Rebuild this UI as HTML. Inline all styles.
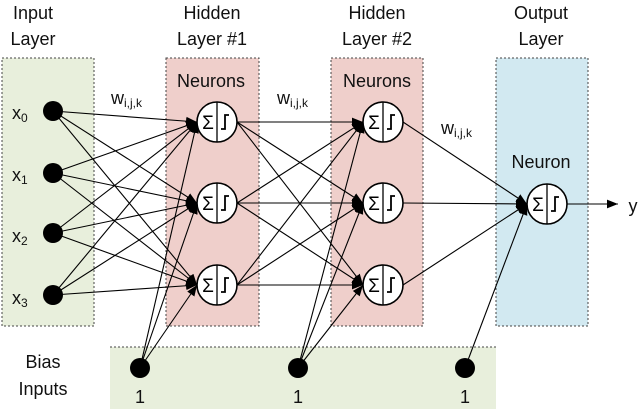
<!DOCTYPE html>
<html><head><style>body{margin:0;background:#fff}svg{display:block;font-family:"Liberation Sans",sans-serif}</style></head><body>
<svg width="640" height="409" viewBox="0 0 640 409" xmlns="http://www.w3.org/2000/svg">
<defs><marker id="b" viewBox="0 0 10 10" refX="10" refY="5" markerWidth="11" markerHeight="11" markerUnits="userSpaceOnUse" orient="auto"><path d="M0,1L10,5L0,9z" fill="#000"/></marker></defs>
<g stroke="#444" stroke-dasharray="2,2" stroke-width="1">
<rect x="2" y="58" width="92" height="268" fill="#e8efdc"/>
<rect x="166" y="58" width="93" height="268" fill="#efcfcb"/>
<rect x="331" y="58" width="92" height="268" fill="#efcfcb"/>
<rect x="496" y="58" width="92" height="268" fill="#d2e9f1"/>
</g>
<rect x="110" y="347" width="386" height="62" fill="#e8efdc"/>
<line x1="110" y1="347" x2="496" y2="347" stroke="#444" stroke-dasharray="2,2"/>
<g font-size="18" fill="#111" text-anchor="middle">
<text x="33" y="19">Input</text><text x="33" y="45">Layer</text>
<text x="212" y="19">Hidden</text><text x="212" y="45">Layer #1</text>
<text x="377" y="19">Hidden</text><text x="377" y="45">Layer #2</text>
<text x="541" y="19">Output</text><text x="541" y="45">Layer</text>
<text x="211" y="87">Neurons</text><text x="377" y="87">Neurons</text><text x="541" y="168">Neuron</text>
<text x="43" y="368">Bias</text><text x="43" y="395">Inputs</text>
<text x="140" y="403">1</text><text x="298" y="403">1</text><text x="465" y="403">1</text>
<text x="633" y="212">y</text>
</g>
<g font-size="18" fill="#111">
<text x="12" y="119">x<tspan font-size="12" dy="3">0</tspan></text>
<text x="12" y="181">x<tspan font-size="12" dy="3">1</tspan></text>
<text x="12" y="242">x<tspan font-size="12" dy="3">2</tspan></text>
<text x="12" y="304">x<tspan font-size="12" dy="3">3</tspan></text>
<text x="111" y="104">w<tspan font-size="12" dy="3">i,j,k</tspan></text>
<text x="277" y="104">w<tspan font-size="12" dy="3">i,j,k</tspan></text>
<text x="441" y="134">w<tspan font-size="12" dy="3">i,j,k</tspan></text>
</g>
<g stroke="#000" stroke-width="1.1" marker-end="url(#b)">
<line x1="53" y1="111" x2="197" y2="122"/><line x1="53" y1="111" x2="197" y2="203"/><line x1="53" y1="111" x2="197" y2="285"/>
<line x1="53" y1="173" x2="197" y2="122"/><line x1="53" y1="173" x2="197" y2="203"/><line x1="53" y1="173" x2="197" y2="285"/>
<line x1="53" y1="233" x2="197" y2="122"/><line x1="53" y1="233" x2="197" y2="203"/><line x1="53" y1="233" x2="197" y2="285"/>
<line x1="53" y1="295" x2="197" y2="122"/><line x1="53" y1="295" x2="197" y2="203"/><line x1="53" y1="295" x2="197" y2="285"/>
<line x1="140" y1="368" x2="197" y2="122"/><line x1="140" y1="368" x2="197" y2="203"/><line x1="140" y1="368" x2="197" y2="285"/>
<line x1="237" y1="122" x2="363" y2="122"/><line x1="237" y1="122" x2="363" y2="203"/><line x1="237" y1="122" x2="363" y2="285"/>
<line x1="237" y1="203" x2="363" y2="122"/><line x1="237" y1="203" x2="363" y2="203"/><line x1="237" y1="203" x2="363" y2="285"/>
<line x1="237" y1="285" x2="363" y2="122"/><line x1="237" y1="285" x2="363" y2="203"/><line x1="237" y1="285" x2="363" y2="285"/>
<line x1="298" y1="368" x2="363" y2="122"/><line x1="298" y1="368" x2="363" y2="203"/><line x1="298" y1="368" x2="363" y2="285"/>
<line x1="403" y1="122" x2="527" y2="204"/><line x1="403" y1="203" x2="527" y2="204"/><line x1="403" y1="285" x2="527" y2="204"/>
<line x1="465" y1="368" x2="527" y2="204"/>
<line x1="567" y1="204" x2="618" y2="204"/>
</g>
<g fill="#000">
<circle cx="53" cy="111" r="10"/><circle cx="53" cy="173" r="10"/><circle cx="53" cy="233" r="10"/><circle cx="53" cy="295" r="10"/>
<circle cx="140" cy="368" r="10"/><circle cx="298" cy="368" r="10"/><circle cx="465" cy="368" r="10"/>
</g>
<defs><g id="n"><circle r="20" fill="#fff" stroke="#000" stroke-width="1.6"/><line x1="0" y1="-20" x2="0" y2="20" stroke="#000" stroke-width="1.3"/>
<text x="-9" y="7" font-size="19" text-anchor="middle" fill="#000">Σ</text>
<path d="M4,7H8V-7H12" fill="none" stroke="#000" stroke-width="1.8"/></g></defs>
<use href="#n" x="217" y="122"/><use href="#n" x="217" y="203"/><use href="#n" x="217" y="285"/>
<use href="#n" x="383" y="122"/><use href="#n" x="383" y="203"/><use href="#n" x="383" y="285"/>
<use href="#n" x="547" y="204"/>
</svg>
</body></html>
